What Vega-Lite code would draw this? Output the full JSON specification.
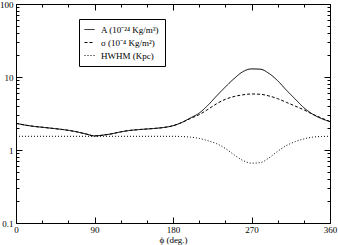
{
  "$schema": "https://vega.github.io/schema/vega-lite/v6.json",
  "width": 314,
  "height": 219,
  "autosize": {"type": "none"},
  "padding": {"left": 16, "top": 4, "right": 8, "bottom": 22},
  "background": "white",
  "config": {
    "view": {"stroke": null},
    "font": "Liberation Serif",
    "axis": {"labelFont": "Liberation Serif", "titleFont": "Liberation Serif", "labelFontSize": 9, "titleFontSize": 9, "titleFontWeight": "normal", "domainColor": "black", "tickColor": "black", "labelColor": "black", "titleColor": "black", "grid": false, "labelOverlap": false, "labelFlush": false, "labelBound": false}
  },
  "datasets": {
    "curves": [
      {"phi": 0, "series": "A (10⁻²⁴ Kg/m³)", "v": 2.32},
      {"phi": 10, "series": "A (10⁻²⁴ Kg/m³)", "v": 2.2},
      {"phi": 20, "series": "A (10⁻²⁴ Kg/m³)", "v": 2.11},
      {"phi": 30, "series": "A (10⁻²⁴ Kg/m³)", "v": 2.05},
      {"phi": 40, "series": "A (10⁻²⁴ Kg/m³)", "v": 1.99},
      {"phi": 50, "series": "A (10⁻²⁴ Kg/m³)", "v": 1.93},
      {"phi": 60, "series": "A (10⁻²⁴ Kg/m³)", "v": 1.86},
      {"phi": 70, "series": "A (10⁻²⁴ Kg/m³)", "v": 1.77},
      {"phi": 80, "series": "A (10⁻²⁴ Kg/m³)", "v": 1.66},
      {"phi": 90, "series": "A (10⁻²⁴ Kg/m³)", "v": 1.56},
      {"phi": 100, "series": "A (10⁻²⁴ Kg/m³)", "v": 1.6},
      {"phi": 110, "series": "A (10⁻²⁴ Kg/m³)", "v": 1.67},
      {"phi": 120, "series": "A (10⁻²⁴ Kg/m³)", "v": 1.77},
      {"phi": 130, "series": "A (10⁻²⁴ Kg/m³)", "v": 1.85},
      {"phi": 140, "series": "A (10⁻²⁴ Kg/m³)", "v": 1.9},
      {"phi": 150, "series": "A (10⁻²⁴ Kg/m³)", "v": 1.94},
      {"phi": 160, "series": "A (10⁻²⁴ Kg/m³)", "v": 1.98},
      {"phi": 170, "series": "A (10⁻²⁴ Kg/m³)", "v": 2.04},
      {"phi": 180, "series": "A (10⁻²⁴ Kg/m³)", "v": 2.15},
      {"phi": 190, "series": "A (10⁻²⁴ Kg/m³)", "v": 2.38},
      {"phi": 200, "series": "A (10⁻²⁴ Kg/m³)", "v": 2.75},
      {"phi": 210, "series": "A (10⁻²⁴ Kg/m³)", "v": 3.2},
      {"phi": 220, "series": "A (10⁻²⁴ Kg/m³)", "v": 4.1},
      {"phi": 230, "series": "A (10⁻²⁴ Kg/m³)", "v": 5.5},
      {"phi": 240, "series": "A (10⁻²⁴ Kg/m³)", "v": 7.3},
      {"phi": 250, "series": "A (10⁻²⁴ Kg/m³)", "v": 9.5},
      {"phi": 260, "series": "A (10⁻²⁴ Kg/m³)", "v": 11.8},
      {"phi": 270, "series": "A (10⁻²⁴ Kg/m³)", "v": 12.9},
      {"phi": 280, "series": "A (10⁻²⁴ Kg/m³)", "v": 12.8},
      {"phi": 290, "series": "A (10⁻²⁴ Kg/m³)", "v": 11.2},
      {"phi": 300, "series": "A (10⁻²⁴ Kg/m³)", "v": 8.9},
      {"phi": 310, "series": "A (10⁻²⁴ Kg/m³)", "v": 6.6},
      {"phi": 320, "series": "A (10⁻²⁴ Kg/m³)", "v": 5.0},
      {"phi": 330, "series": "A (10⁻²⁴ Kg/m³)", "v": 3.8},
      {"phi": 340, "series": "A (10⁻²⁴ Kg/m³)", "v": 3.1},
      {"phi": 350, "series": "A (10⁻²⁴ Kg/m³)", "v": 2.7},
      {"phi": 360, "series": "A (10⁻²⁴ Kg/m³)", "v": 2.45},
      {"phi": 0, "series": "σ (10⁻⁴ Kg/m²)", "v": 2.32},
      {"phi": 10, "series": "σ (10⁻⁴ Kg/m²)", "v": 2.2},
      {"phi": 20, "series": "σ (10⁻⁴ Kg/m²)", "v": 2.11},
      {"phi": 30, "series": "σ (10⁻⁴ Kg/m²)", "v": 2.05},
      {"phi": 40, "series": "σ (10⁻⁴ Kg/m²)", "v": 1.99},
      {"phi": 50, "series": "σ (10⁻⁴ Kg/m²)", "v": 1.93},
      {"phi": 60, "series": "σ (10⁻⁴ Kg/m²)", "v": 1.86},
      {"phi": 70, "series": "σ (10⁻⁴ Kg/m²)", "v": 1.77},
      {"phi": 80, "series": "σ (10⁻⁴ Kg/m²)", "v": 1.66},
      {"phi": 90, "series": "σ (10⁻⁴ Kg/m²)", "v": 1.56},
      {"phi": 100, "series": "σ (10⁻⁴ Kg/m²)", "v": 1.6},
      {"phi": 110, "series": "σ (10⁻⁴ Kg/m²)", "v": 1.67},
      {"phi": 120, "series": "σ (10⁻⁴ Kg/m²)", "v": 1.77},
      {"phi": 130, "series": "σ (10⁻⁴ Kg/m²)", "v": 1.85},
      {"phi": 140, "series": "σ (10⁻⁴ Kg/m²)", "v": 1.9},
      {"phi": 150, "series": "σ (10⁻⁴ Kg/m²)", "v": 1.94},
      {"phi": 160, "series": "σ (10⁻⁴ Kg/m²)", "v": 1.98},
      {"phi": 170, "series": "σ (10⁻⁴ Kg/m²)", "v": 2.04},
      {"phi": 180, "series": "σ (10⁻⁴ Kg/m²)", "v": 2.15},
      {"phi": 190, "series": "σ (10⁻⁴ Kg/m²)", "v": 2.38},
      {"phi": 200, "series": "σ (10⁻⁴ Kg/m²)", "v": 2.7},
      {"phi": 210, "series": "σ (10⁻⁴ Kg/m²)", "v": 3.05},
      {"phi": 220, "series": "σ (10⁻⁴ Kg/m²)", "v": 3.6},
      {"phi": 230, "series": "σ (10⁻⁴ Kg/m²)", "v": 4.3},
      {"phi": 240, "series": "σ (10⁻⁴ Kg/m²)", "v": 4.95},
      {"phi": 250, "series": "σ (10⁻⁴ Kg/m²)", "v": 5.4},
      {"phi": 260, "series": "σ (10⁻⁴ Kg/m²)", "v": 5.7},
      {"phi": 270, "series": "σ (10⁻⁴ Kg/m²)", "v": 5.85},
      {"phi": 280, "series": "σ (10⁻⁴ Kg/m²)", "v": 5.8},
      {"phi": 290, "series": "σ (10⁻⁴ Kg/m²)", "v": 5.5},
      {"phi": 300, "series": "σ (10⁻⁴ Kg/m²)", "v": 5.05},
      {"phi": 310, "series": "σ (10⁻⁴ Kg/m²)", "v": 4.5},
      {"phi": 320, "series": "σ (10⁻⁴ Kg/m²)", "v": 4.0},
      {"phi": 330, "series": "σ (10⁻⁴ Kg/m²)", "v": 3.55},
      {"phi": 340, "series": "σ (10⁻⁴ Kg/m²)", "v": 3.1},
      {"phi": 350, "series": "σ (10⁻⁴ Kg/m²)", "v": 2.75},
      {"phi": 360, "series": "σ (10⁻⁴ Kg/m²)", "v": 2.45},
      {"phi": 0, "series": "HWHM (Kpc)", "v": 1.54},
      {"phi": 30, "series": "HWHM (Kpc)", "v": 1.54},
      {"phi": 60, "series": "HWHM (Kpc)", "v": 1.54},
      {"phi": 90, "series": "HWHM (Kpc)", "v": 1.54},
      {"phi": 120, "series": "HWHM (Kpc)", "v": 1.54},
      {"phi": 150, "series": "HWHM (Kpc)", "v": 1.54},
      {"phi": 180, "series": "HWHM (Kpc)", "v": 1.54},
      {"phi": 190, "series": "HWHM (Kpc)", "v": 1.53},
      {"phi": 200, "series": "HWHM (Kpc)", "v": 1.5},
      {"phi": 210, "series": "HWHM (Kpc)", "v": 1.44},
      {"phi": 220, "series": "HWHM (Kpc)", "v": 1.34},
      {"phi": 230, "series": "HWHM (Kpc)", "v": 1.22},
      {"phi": 240, "series": "HWHM (Kpc)", "v": 1.05},
      {"phi": 250, "series": "HWHM (Kpc)", "v": 0.86},
      {"phi": 260, "series": "HWHM (Kpc)", "v": 0.72},
      {"phi": 270, "series": "HWHM (Kpc)", "v": 0.66},
      {"phi": 280, "series": "HWHM (Kpc)", "v": 0.67},
      {"phi": 290, "series": "HWHM (Kpc)", "v": 0.78},
      {"phi": 300, "series": "HWHM (Kpc)", "v": 0.96},
      {"phi": 310, "series": "HWHM (Kpc)", "v": 1.15},
      {"phi": 320, "series": "HWHM (Kpc)", "v": 1.3},
      {"phi": 330, "series": "HWHM (Kpc)", "v": 1.42},
      {"phi": 340, "series": "HWHM (Kpc)", "v": 1.5},
      {"phi": 350, "series": "HWHM (Kpc)", "v": 1.53},
      {"phi": 360, "series": "HWHM (Kpc)", "v": 1.54}
    ]
  },
  "data": {"name": "curves"},
  "layer": [
    {
      "mark": {"type": "line", "interpolate": "monotone", "strokeWidth": 1, "color": "black"},
      "encoding": {
        "x": {"field": "phi", "type": "quantitative",
          "scale": {"domain": [0, 360], "nice": false, "zero": false},
          "axis": {"orient": "bottom", "title": "ϕ (deg.)", "titlePadding": -2,
            "values": [0, 30, 60, 90, 120, 150, 180, 210, 240, 270, 300, 330, 360],
            "labelExpr": "datum.value % 90 === 0 ? datum.label : ''",
            "labelPadding": 8,
            "tickSize": {"condition": {"test": "datum.value % 90 === 0", "value": -6}, "value": -3}}},
        "y": {"field": "v", "type": "quantitative",
          "scale": {"type": "log", "domain": [0.1, 100], "nice": false},
          "axis": {"orient": "left", "title": null, "format": "~g",
            "values": [0.1, 0.2, 0.3, 0.4, 0.5, 0.6, 0.7, 0.8, 0.9, 1, 2, 3, 4, 5, 6, 7, 8, 9, 10, 20, 30, 40, 50, 60, 70, 80, 90, 100],
            "labelExpr": "(datum.value == 0.1 || datum.value == 1 || datum.value == 10 || datum.value == 100) ? datum.label : ''",
            "labelPadding": 9,
            "tickSize": {"condition": {"test": "datum.value == 0.1 || datum.value == 1 || datum.value == 10 || datum.value == 100", "value": -6}, "value": -3}}},
        "strokeDash": {"field": "series", "type": "nominal",
          "scale": {"domain": ["A (10⁻²⁴ Kg/m³)", "σ (10⁻⁴ Kg/m²)", "HWHM (Kpc)"], "range": [[1, 0], [3, 2], [1, 2]]},
          "legend": {"orient": "none", "legendX": 63, "legendY": 15, "title": null,
            "strokeColor": "black", "fillColor": "white", "padding": 5,
            "symbolType": "stroke", "symbolSize": 100, "symbolStrokeColor": "black", "symbolStrokeWidth": 1,
            "labelFont": "Liberation Serif", "labelFontSize": 9, "labelColor": "black", "rowPadding": 2, "labelOffset": 6}}
      }
    },
    {
      "mark": {"type": "line", "opacity": 0},
      "encoding": {
        "x": {"field": "phi", "type": "quantitative",
          "axis": {"orient": "top", "title": null, "labels": false,
            "values": [0, 30, 60, 90, 120, 150, 180, 210, 240, 270, 300, 330, 360],
            "tickSize": {"condition": {"test": "datum.value % 90 === 0", "value": -6}, "value": -3}}},
        "y": {"field": "v", "type": "quantitative",
          "axis": {"orient": "right", "title": null, "labels": false,
            "values": [0.1, 0.2, 0.3, 0.4, 0.5, 0.6, 0.7, 0.8, 0.9, 1, 2, 3, 4, 5, 6, 7, 8, 9, 10, 20, 30, 40, 50, 60, 70, 80, 90, 100],
            "tickSize": {"condition": {"test": "datum.value == 0.1 || datum.value == 1 || datum.value == 10 || datum.value == 100", "value": -6}, "value": -3}}},
        "detail": {"field": "series"}
      }
    }
  ],
  "resolve": {"axis": {"x": "independent", "y": "independent"}}
}
